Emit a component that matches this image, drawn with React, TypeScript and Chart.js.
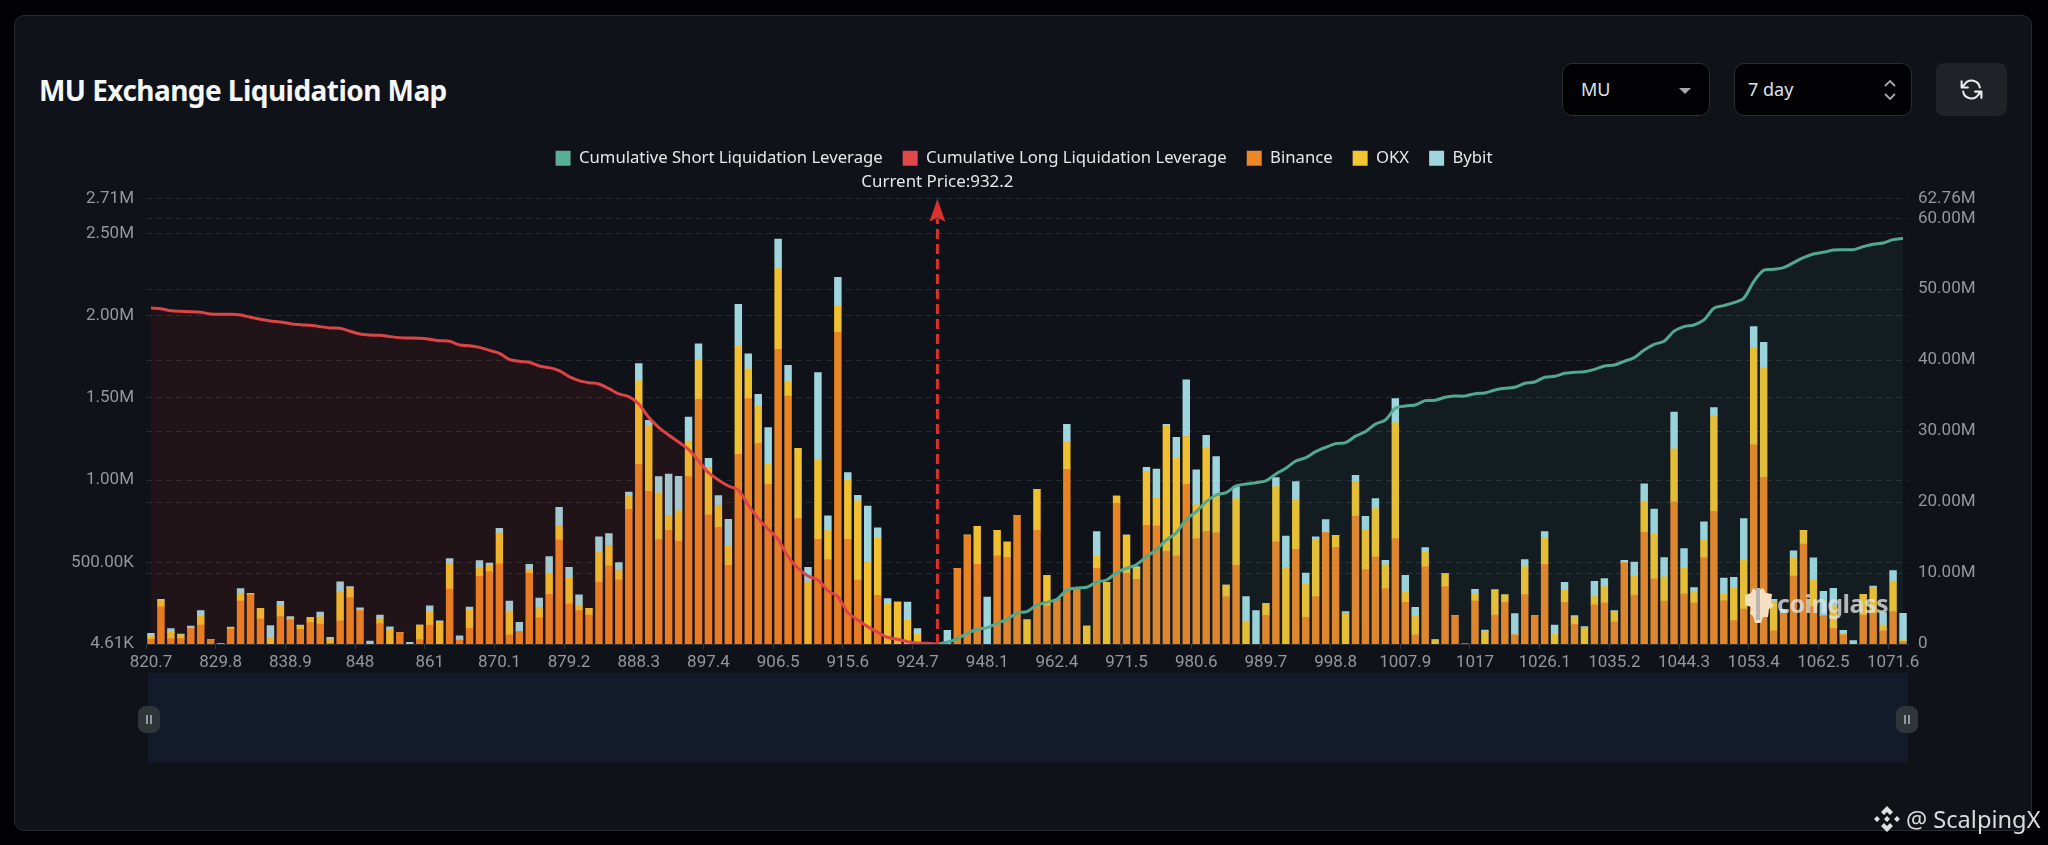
import { useEffect, useRef } from "react";
import { Chart, registerables } from "chart.js";

Chart.register(...registerables);

// x labels, one every 7 bars
const tickLabels = [
  "820.7", "829.8", "838.9", "848", "861", "870.1", "879.2", "888.3", "897.4", "906.5",
  "915.6", "924.7", "948.1", "962.4", "971.5", "980.6", "989.7", "998.8", "1007.9", "1017",
  "1026.1", "1035.2", "1044.3", "1053.4", "1062.5", "1071.6",
];

// liquidation per price bucket, in thousands
const binance = [
  35, 230, 37, 37, 100, 120, 31, 9, 96, 266,
  305, 157, 0, 171, 151, 94, 134, 126, 9, 145,
  286, 207, 0, 128, 0, 74, 0, 31, 120, 0,
  339, 29, 102, 418, 444, 491, 60, 82, 434, 165,
  307, 637, 248, 207, 181, 381, 479, 394, 823, 1096,
  932, 639, 695, 629, 1021, 1491, 789, 714, 483, 1157,
  1495, 1224, 975, 1795, 1513, 768, 0, 641, 517, 1898,
  641, 394, 0, 300, 0, 0, 0, 0, 13, 0,
  0, 464, 667, 489, 0, 541, 531, 786, 0, 695,
  236, 276, 1066, 343, 0, 464, 0, 859, 434, 398,
  726, 722, 568, 541, 975, 645, 689, 681, 292, 483,
  0, 0, 179, 625, 0, 580, 167, 292, 681, 592,
  0, 782, 456, 533, 341, 645, 258, 60, 475, 0,
  353, 177, 0, 266, 0, 181, 258, 60, 305, 177,
  489, 0, 258, 124, 0, 242, 254, 140, 497, 302,
  685, 400, 266, 868, 309, 254, 529, 811, 268, 147,
  217, 1214, 1017, 84, 191, 418, 612, 232, 177, 100,
  60, 0, 181, 191, 84, 201, 19,
];

const okx = [
  18, 38, 38, 24, 0, 53, 0, 0, 4, 47,
  0, 65, 45, 69, 6, 24, 32, 43, 26, 178,
  61, 0, 0, 30, 89, 0, 0, 89, 79, 136,
  156, 4, 107, 51, 40, 188, 144, 0, 20, 63,
  128, 89, 156, 34, 40, 180, 124, 57, 81, 508,
  399, 284, 91, 184, 217, 243, 288, 132, 119, 656,
  182, 229, 122, 490, 89, 425, 383, 486, 176, 164,
  358, 480, 500, 348, 245, 259, 148, 63, 0, 0,
  0, 0, 0, 231, 0, 154, 93, 0, 152, 249,
  184, 0, 170, 0, 113, 77, 379, 45, 233, 67,
  328, 170, 761, 591, 290, 205, 510, 219, 71, 403,
  144, 0, 71, 336, 468, 298, 203, 348, 0, 73,
  190, 211, 243, 294, 144, 703, 61, 119, 87, 32,
  79, 0, 0, 47, 81, 152, 45, 0, 170, 0,
  162, 63, 77, 45, 105, 51, 99, 63, 0, 117,
  188, 271, 146, 322, 158, 71, 111, 583, 40, 200,
  296, 593, 662, 178, 0, 113, 83, 166, 0, 132,
  10, 0, 126, 158, 36, 186, 6,
];

const bybit = [
  16, 8, 24, 4, 14, 34, 0, 0, 8, 28,
  8, 0, 71, 24, 14, 2, 0, 30, 10, 59,
  6, 18, 22, 22, 20, 0, 14, 0, 38, 10,
  28, 22, 20, 43, 12, 28, 61, 55, 34, 55,
  101, 109, 67, 63, 0, 95, 73, 49, 24, 105,
  32, 99, 251, 211, 146, 95, 55, 61, 160, 255,
  91, 69, 223, 180, 95, 0, 87, 527, 91, 170,
  47, 34, 342, 63, 36, 0, 111, 36, 0, 0,
  87, 0, 0, 0, 290, 0, 0, 0, 0, 0,
  0, 0, 103, 0, 0, 146, 0, 0, 0, 10,
  24, 176, 10, 128, 344, 213, 73, 243, 0, 75,
  148, 207, 0, 55, 192, 113, 65, 16, 79, 0,
  12, 36, 81, 61, 28, 148, 103, 49, 28, 0,
  0, 0, 6, 24, 8, 0, 0, 130, 43, 0,
  36, 57, 45, 8, 6, 93, 49, 4, 16, 83,
  105, 154, 117, 223, 117, 22, 107, 47, 97, 63,
  253, 126, 158, 14, 24, 40, 0, 130, 148, 111,
  18, 26, 0, 8, 75, 63, 166,
];

// cumulative leverage, in millions, from the first bucket up to the current price
const cumulativeLong = [
  47.36, 47.26, 46.98, 46.89, 46.84, 46.75, 46.51, 46.46, 46.46, 46.37,
  46.04, 45.76, 45.53, 45.39, 45.15, 45.01, 44.91, 44.73, 44.54, 44.49,
  44.07, 43.69, 43.55, 43.5, 43.32, 43.18, 43.13, 43.08, 42.94, 42.75,
  42.66, 42.14, 42.05, 41.81, 41.39, 40.97, 40.12, 39.84, 39.7, 39.18,
  38.95, 38.52, 37.68, 37.12, 36.83, 36.65, 35.99, 35.24, 34.86, 33.83,
  31.95, 30.54, 29.46, 28.47, 27.44, 25.84, 24.15, 23.12, 22.27, 21.71,
  19.59, 17.71, 16.21, 14.75, 12.31, 10.67, 9.59, 9.02, 7.52, 6.67,
  4.42, 3.38, 2.45, 1.65, 0.94, 0.66, 0.33, 0.14, 0.09, 0,
];

// from the current price up to the last bucket
const cumulativeShort = [
  0, 0.24, 0.75, 1.51, 2.07, 2.3, 2.91, 3.48, 4.37, 4.56,
  5.5, 5.87, 6.3, 7.61, 7.89, 7.99, 8.74, 9.02, 10.06, 10.67,
  11.18, 12.31, 13.34, 14.66, 15.69, 17.57, 18.65, 20.06, 21.0, 21.33,
  22.27, 22.55, 22.74, 22.98, 23.96, 24.76, 25.79, 26.26, 27.11, 27.72,
  28.24, 28.38, 29.3, 29.93, 31.0, 31.57, 33.22, 33.55, 33.69, 34.3,
  34.34, 34.77, 34.95, 34.95, 35.28, 35.38, 35.8, 36.04, 36.18, 36.74,
  36.93, 37.6, 37.73, 38.15, 38.29, 38.38, 38.71, 39.18, 39.33, 39.84,
  40.36, 41.44, 42.24, 42.66, 44.1, 44.73, 44.96, 45.67, 47.31, 47.69,
  48.11, 48.72, 51.07, 52.67, 52.81, 53.04, 53.75, 54.45, 54.97, 55.2,
  55.53, 55.58, 55.58, 56.0, 56.33, 56.52, 56.99, 57.18,
];

const leftTicks = [4.61, 500, 1000, 1500, 2000, 2500, 2710];
const rightTicks = [0, 10, 20, 30, 40, 50, 60, 62.76];

const currentPriceIndex = 79;
const currentPriceLabel = "Current Price:932.2";

const labels = binance.map((_, i) => (i % 7 === 0 ? tickLabels[i / 7] : ""));
const longSeries = binance.map((_, i) => (i < cumulativeLong.length ? cumulativeLong[i] : null));
const shortSeries = binance.map((_, i) =>
  i < currentPriceIndex ? null : cumulativeShort[i - currentPriceIndex],
);

const legendColors = ["#5aae96", "#e0494c", "#eb8727", "#f2c633", "#9fd6dd"];
const tickFont = { family: "Roboto", size: 17 };

function formatLeft(v: number) {
  if (v >= 1000) return (v / 1000).toFixed(2) + "M";
  return v.toFixed(2) + "K";
}

function formatRight(v: number) {
  return v === 0 ? "0" : v.toFixed(2) + "M";
}

// space between the legend and the plot
const legendGap = {
  id: "legendGap",
  beforeLayout(chart: any) {
    const legend = chart.legend;
    if (!legend || legend._gapped) return;
    const fit = legend.fit;
    legend.fit = function () {
      fit.call(this);
      this.height += 22;
    };
    legend._gapped = true;
  },
};

const currentPriceArrow = {
  id: "currentPriceArrow",
  afterDatasetsDraw(chart: any) {
    const { ctx, scales, chartArea } = chart;
    const x = scales.x.getPixelForValue(currentPriceIndex);
    const tip = chartArea.top;
    ctx.save();
    ctx.strokeStyle = "#d8322f";
    ctx.fillStyle = "#d8322f";
    ctx.lineWidth = 3;
    ctx.setLineDash([10, 5]);
    ctx.beginPath();
    ctx.moveTo(x, chartArea.bottom);
    ctx.lineTo(x, tip + 20);
    ctx.stroke();
    ctx.setLineDash([]);
    ctx.beginPath();
    ctx.moveTo(x, tip);
    ctx.lineTo(x + 8, tip + 23);
    ctx.lineTo(x, tip + 19);
    ctx.lineTo(x - 8, tip + 23);
    ctx.closePath();
    ctx.fill();
    ctx.fillStyle = "#e6e7e8";
    ctx.font = '16.9px "Noto Sans", sans-serif';
    ctx.textAlign = "center";
    ctx.textBaseline = "middle";
    ctx.fillText(currentPriceLabel, x, tip - 17);
    ctx.restore();
  },
};

function Handle({ left }: { left: number }) {
  return (
    <div
      style={{
        position: "absolute",
        left,
        top: 706,
        width: 22,
        height: 27,
        borderRadius: 8,
        background: "#30353a",
      }}
    >
      <div style={{ position: "absolute", left: 8, top: 9, width: 2, height: 9, background: "#8f9aa0" }} />
      <div style={{ position: "absolute", left: 12, top: 9, width: 2, height: 9, background: "#8f9aa0" }} />
    </div>
  );
}

export default function App() {
  const canvasRef = useRef<HTMLCanvasElement>(null);

  useEffect(() => {
    if (!canvasRef.current) return;

    const chart = new Chart(canvasRef.current, {
      type: "bar",
      data: {
        labels,
        datasets: [
          {
            type: "line",
            label: "Cumulative Short Liquidation Leverage",
            data: shortSeries,
            yAxisID: "y2",
            order: 0,
            borderColor: "#52a98f",
            backgroundColor: "rgba(90, 174, 150, 0.07)",
            borderWidth: 3,
            pointRadius: 0,
            tension: 0.3,
            fill: "origin",
          },
          {
            type: "line",
            label: "Cumulative Long Liquidation Leverage",
            data: longSeries,
            yAxisID: "y2",
            order: 0,
            borderColor: "#dc4446",
            backgroundColor: "rgba(220, 40, 40, 0.09)",
            borderWidth: 3,
            pointRadius: 0,
            tension: 0.3,
            fill: "origin",
          },
          { label: "Binance", data: binance, backgroundColor: "#e98425", order: 1, yAxisID: "y" },
          { label: "OKX", data: okx, backgroundColor: "#f0c030", order: 1, yAxisID: "y" },
          { label: "Bybit", data: bybit, backgroundColor: "#9fd6dd", order: 1, yAxisID: "y" },
        ],
      } as any,
      plugins: [legendGap, currentPriceArrow],
      options: {
        responsive: false,
        animation: false,
        layout: { padding: { top: 130, left: 0, right: 0, bottom: 0 } },
        datasets: { bar: { barThickness: 6.8 } },
        plugins: {
          tooltip: { enabled: false },
          legend: {
            position: "top",
            labels: {
              boxWidth: 15,
              boxHeight: 15,
              padding: 20,
              font: { family: "Noto Sans", size: 16.7 },
              generateLabels: (c: any) =>
                c.data.datasets.map((d: any, i: number) => ({
                  text: d.label,
                  fillStyle: legendColors[i],
                  strokeStyle: legendColors[i],
                  fontColor: "#e6e7e8",
                  lineWidth: 0,
                  datasetIndex: i,
                })),
            },
          },
        },
        scales: {
          x: {
            stacked: true,
            afterFit: (s: any) => {
              s.height = 201;
            },
            ticks: {
              autoSkip: false,
              maxRotation: 0,
              minRotation: 0,
              padding: 4,
              color: "#94979b",
              font: tickFont,
            },
            grid: {
              drawOnChartArea: false,
              tickLength: 5,
              tickColor: (c: any) => (c.index % 7 === 0 ? "#33373c" : "transparent"),
            },
            border: { color: "#2e3136" },
          },
          y: {
            stacked: true,
            min: 4.61,
            max: 2710,
            afterBuildTicks: (s: any) => {
              s.ticks = leftTicks.map((value) => ({ value }));
            },
            afterFit: (s: any) => {
              s.width = 146;
            },
            ticks: {
              padding: 12,
              color: "#94979b",
              font: tickFont,
              callback: (v: any) => formatLeft(Number(v)),
            },
            grid: { drawTicks: false, color: "#282c31" },
            border: { display: false, dash: [6, 4] },
          },
          y2: {
            position: "right",
            min: 0,
            max: 62.76,
            afterBuildTicks: (s: any) => {
              s.ticks = rightTicks.map((value) => ({ value }));
            },
            afterFit: (s: any) => {
              s.width = 140;
            },
            ticks: {
              padding: 10,
              color: "#94979b",
              font: tickFont,
              callback: (v: any) => formatRight(Number(v)),
            },
            grid: { drawTicks: false, color: "#282c31" },
            border: { display: false, dash: [6, 4] },
          },
        },
      },
    } as any);

    return () => {
      chart.destroy();
    };
  }, []);

  const selectBox = {
    position: "absolute" as const,
    top: 63,
    height: 53,
    boxSizing: "border-box" as const,
    background: "#020205",
    border: "1px solid #2a2c30",
    borderRadius: 10,
    color: "#dfe3e8",
    font: '18px "Noto Sans", sans-serif',
    lineHeight: "51px",
  };

  return (
    <div
      style={{
        position: "fixed",
        left: 0,
        top: 0,
        width: 2048,
        height: 845,
        overflow: "hidden",
        background: "#020204",
      }}
    >
      {/* panel */}
      <div
        style={{
          position: "absolute",
          left: 14,
          top: 15,
          width: 2018,
          height: 816,
          boxSizing: "border-box",
          background: "#0f1218",
          border: "1px solid #272a2f",
          borderRadius: 10,
        }}
      />
      <div
        style={{
          position: "absolute",
          left: 39,
          top: 68,
          color: "#f4f6f8",
          font: 'bold 28px "Noto Sans", sans-serif',
          lineHeight: "44px",
          letterSpacing: -0.55,
          whiteSpace: "nowrap",
        }}
      >
        MU Exchange Liquidation Map
      </div>

      <div style={{ ...selectBox, left: 1562, width: 148, paddingLeft: 18 }}>
        MU
        <svg style={{ position: "absolute", left: 115, top: 23 }} width="14" height="8">
          <path d="M1 1h12l-6 6z" fill="#a6a8aa" />
        </svg>
      </div>
      <div style={{ ...selectBox, left: 1734, width: 178, paddingLeft: 13 }}>
        7 day
        <svg style={{ position: "absolute", left: 148, top: 15 }} width="14" height="22" fill="none" stroke="#a6a8aa" strokeWidth="1.8">
          <path d="M2 7l5-5 5 5M2 15l5 5 5-5" />
        </svg>
      </div>
      <div
        style={{
          position: "absolute",
          left: 1936,
          top: 63,
          width: 71,
          height: 53,
          background: "#1f2227",
          borderRadius: 8,
        }}
      >
        <svg style={{ position: "absolute", left: 23, top: 14 }} width="25" height="25" viewBox="0 0 24 24" fill="none" stroke="#eceef0" strokeWidth="2" strokeLinecap="round" strokeLinejoin="round">
          <path d="M20 10a8 8 0 0 0-14.5-3L2.5 10M2.5 4v6h6M4 14a8 8 0 0 0 14.5 3l3-3M21.5 20v-6h-6" />
        </svg>
      </div>

      <canvas
        ref={canvasRef}
        width={2048}
        height={845}
        style={{ position: "absolute", left: 0, top: 0, display: "block" }}
      />

      {/* range slider */}
      <div style={{ position: "absolute", left: 148, top: 673, width: 1760, height: 89, background: "#131a2a" }} />
      <Handle left={138} />
      <Handle left={1896} />

      {/* coinglass mark */}
      <svg style={{ position: "absolute", left: 1742, top: 587 }} width="32" height="38" viewBox="0 0 32 38">
        <path d="M3 8l6-2 2-5 4 3 6-3 3 5 6 1-1 8 3 4-5 3-1 8-5 0-2 6-6 0-2-7-3-2 1-7-6-2z" fill="#f5dfc0" />
        <rect x="14" y="1" width="4" height="32" fill="#b9b6b0" />
      </svg>
      <div
        style={{
          position: "absolute",
          left: 1777,
          top: 584,
          color: "rgba(225, 225, 225, 0.78)",
          font: 'bold 25px "Noto Sans", sans-serif',
          lineHeight: "38px",
          letterSpacing: -0.5,
        }}
      >
        coinglass
      </div>

      {/* author mark */}
      <svg style={{ position: "absolute", left: 1873, top: 805 }} width="28" height="28" viewBox="0 0 28 28" fill="#e0e0e0">
        <path d="M14 1l6 6-3 3-3-3-3 3-3-3zM14 27l-6-6 3-3 3 3 3-3 3 3zM1 14l3-3 3 3-3 3zM21 14l3-3 3 3-3 3zM14 11l3 3-3 3-3-3z" />
      </svg>
      <div
        style={{
          position: "absolute",
          left: 1906,
          top: 802,
          color: "#dcdcdc",
          font: '23.6px "Noto Sans", sans-serif',
          lineHeight: "34px",
          whiteSpace: "nowrap",
        }}
      >
        @ ScalpingX
      </div>
    </div>
  );
}
